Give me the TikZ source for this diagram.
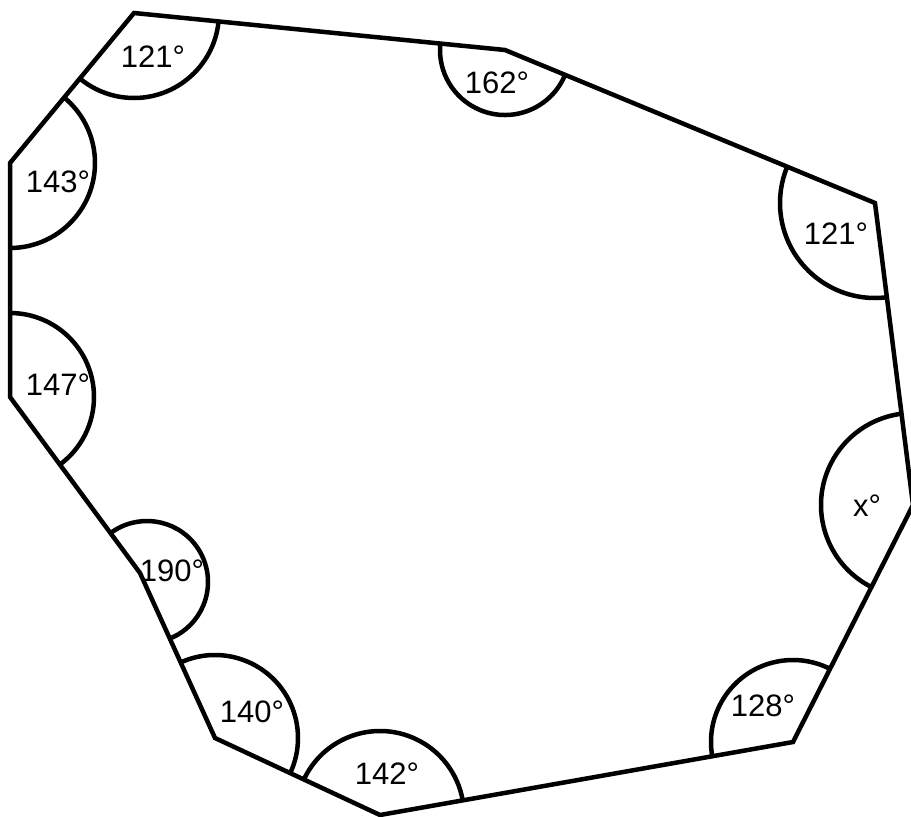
\documentclass[tikz,border=0pt]{standalone}
\usepackage{fontspec}
\setmainfont{Liberation Sans}
\begin{document}
\begin{tikzpicture}[x=1pt,y=-1pt,
  edge/.style={line width=4.5pt},
  anglearc/.style={line width=4.5pt},
  lbl/.style={font=\fontsize{31}{36}\selectfont, inner sep=0pt}]
\useasboundingbox (0,0) rectangle (911,817);
% vertices
\coordinate (v1) at (134,13);
\coordinate (v2) at (505,50);
\coordinate (v3) at (875,203);
\coordinate (v4) at (913,505);
\coordinate (v5) at (793,742);
\coordinate (v6) at (380,815);
\coordinate (v7) at (215,738);
\coordinate (v8) at (140,573);
\coordinate (v9) at (10,397);
\coordinate (v10) at (10,163);
\coordinate (c8) at (147,582);
% polygon
\draw[edge] (v1) -- (v2) -- (v3) -- (v4) -- (v5) -- (v6) -- (v7) -- (v8) -- (v9) -- (v10) -- cycle;
% angle arcs
\draw[anglearc] (v1) ++(5.7:85) arc[start angle=5.7, end angle=129.6, radius=85];
\draw[anglearc] (v2) ++(22.5:65) arc[start angle=22.5, end angle=185.7, radius=65];
\draw[anglearc] (v3) ++(83.7:95) arc[start angle=83.7, end angle=202.5, radius=95];
\draw[anglearc] (v4) ++(116.9:92) arc[start angle=116.9, end angle=262.8, radius=92];
\draw[anglearc] (v5) ++(170.3:82) arc[start angle=170.3, end angle=296.6, radius=82];
\draw[anglearc] (v6) ++(204.8:84) arc[start angle=204.8, end angle=350.3, radius=84];
\draw[anglearc] (v7) ++(-114.4:83) arc[start angle=-114.4, end angle=24.8, radius=83];
\draw[anglearc] (c8) ++(-127:61) arc[start angle=-127, end angle=66, radius=61];
\draw[anglearc] (v9) ++(-90:84) arc[start angle=-90, end angle=53.6, radius=84];
\draw[anglearc] (v10) ++(-50.4:85) arc[start angle=-50.4, end angle=90, radius=85];
% labels
\node[lbl] (l1) at (153,57) {121°};
\node[lbl] (l2) at (497,83) {162°};
\node[lbl] (l3) at (836,234) {121°};
\node[lbl] (l4) at (867,506) {x°};
\node[lbl] (l5) at (763,706) {128°};
\node[lbl] (l6) at (387,774) {142°};
\node[lbl] (l7) at (252,712) {140°};
\node[lbl] (l8) at (172,571) {190°};
\node[lbl] (l9) at (58,385) {147°};
\node[lbl] (l10) at (58,182) {143°};
\end{tikzpicture}
\end{document}
